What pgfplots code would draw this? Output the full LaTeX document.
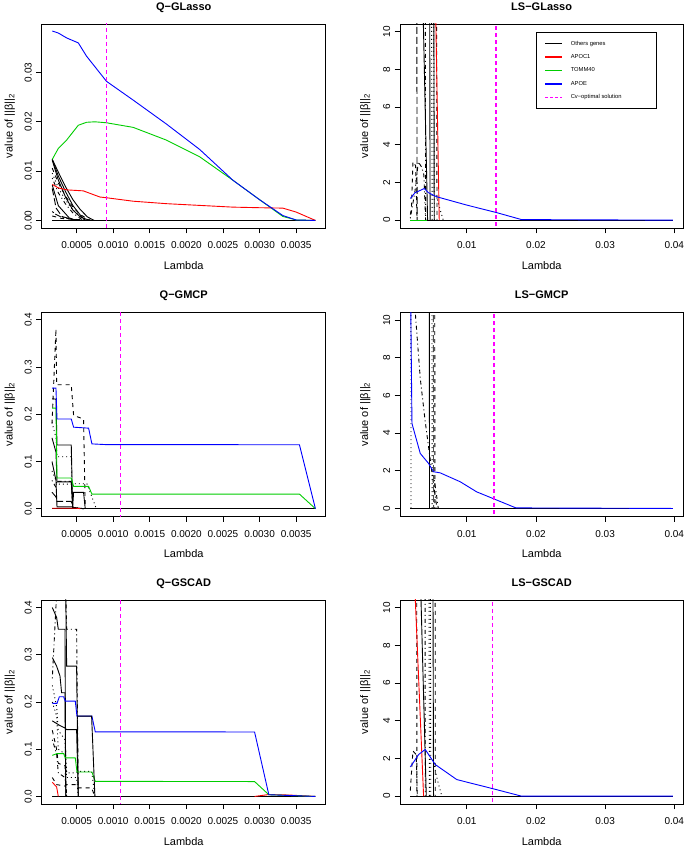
\documentclass[border=0pt]{standalone}
\usepackage{fontspec}
\setmainfont{Liberation Sans}
\usepackage{pgfplots}
\pgfplotsset{compat=1.18}

\definecolor{rgreen}{RGB}{0,205,0}
\definecolor{rmagenta}{RGB}{255,0,255}
\definecolor{rblue}{RGB}{0,0,255}
\definecolor{rred}{RGB}{255,0,0}
\tikzset{
  lty2/.style={dash pattern=on 4pt off 4pt},
  lty3/.style={dash pattern=on 1pt off 3pt},
  lty4/.style={dash pattern=on 1pt off 3pt on 4pt off 3pt},
  lty5/.style={dash pattern=on 7pt off 3pt},
  lty6/.style={dash pattern=on 2pt off 2pt on 6pt off 2pt},
  cvline/.style={rmagenta, line width=1.6pt, dash pattern=on 4pt off 3pt},
}
\pgfplotsset{
  rpanel/.style={
    scale only axis, width=284pt, height=204pt, anchor=north west,
    axis line style={line width=0.9pt},
    tick align=outside, major tick length=5.5pt,
    xtick pos=bottom, ytick pos=left,
    tick style={black, line width=0.7pt},
    scaled ticks=false,
    /pgf/number format/assume math mode=true,
    ticklabel style={font=\fontsize{10}{12}\selectfont},
    xticklabel style={anchor=base, yshift=-15.4pt},
    yticklabel style={rotate=90, anchor=base, yshift=4.5pt},
    title style={font=\bfseries\fontsize{11}{13}\selectfont, at={(0.5,1)}, anchor=base, yshift=7.3pt},
    xlabel style={font=\fontsize{11}{13}\selectfont, at={(0.5,0)}, anchor=base, yshift=-41.6pt},
    ylabel style={font=\fontsize{11}{13}\selectfont, at={(0,0.5)}, anchor=base},
    xlabel={Lambda}, ylabel={value of ||β||\textsubscript{2}},
    every axis plot/.append style={line width=0.9pt, forget plot},
    clip=true,
  },
  qx/.style={xmin=0.000023, xmax=0.003904,
    xtick={0.0005,0.001,0.0015,0.002,0.0025,0.003,0.0035},
    xticklabels={0.0005,0.0010,0.0015,0.0020,0.0025,0.0030,0.0035},
    ylabel style={yshift=29pt}},
  qy/.style={ymin=-0.016, ymax=0.416, ytick={0,0.1,0.2,0.3,0.4},
    yticklabels={0.0,0.1,0.2,0.3,0.4}},
  lsx/.style={width=283.3pt, xmin=0.00035, xmax=0.0413,
    xtick={0.01,0.02,0.03,0.04}, xticklabels={0.01,0.02,0.03,0.04},
    ymin=-0.416, ymax=10.416, ytick={0,2,4,6,8,10},
    ylabel style={yshift=32pt}},
}

\begin{document}
\begin{tikzpicture}
\path[use as bounding box] (0,0) rectangle (685pt,849pt);

% ---------------- Q-GLasso
\begin{axis}[rpanel, qx, at={(41.7pt,825pt)}, title={Q−GLasso},
  ymin=-0.00153, ymax=0.03983, ytick={0,0.01,0.02,0.03},
  yticklabels={0.00,0.01,0.02,0.03}]
\addplot[black] coordinates {(0.000167,0.0124)(0.00025,0.0098)(0.00035,0.0068)(0.00045,0.0042)(0.00055,0.0022)(0.00065,0.0007)(0.00074,0)};
\addplot[black] coordinates {(0.000167,0.0124)(0.00025,0.0090)(0.00035,0.0058)(0.00045,0.0030)(0.00055,0.0011)(0.00062,0)};
\addplot[black] coordinates {(0.000167,0.0122)(0.00025,0.0082)(0.00035,0.0047)(0.00045,0.0021)(0.00055,0.0007)(0.00068,0)};
\addplot[black] coordinates {(0.000167,0.0072)(0.00025,0.0030)(0.0004,0.0005)(0.0005,0)};
\addplot[black,lty2] coordinates {(0.000167,0.0106)(0.00025,0.0076)(0.00035,0.0049)(0.00045,0.0027)(0.00055,0.0012)(0.00065,0.0003)(0.0007,0)};
\addplot[black,lty3] coordinates {(0.000167,0.0096)(0.00025,0.0066)(0.00035,0.0041)(0.00045,0.0021)(0.00055,0.0008)(0.00062,0)};
\addplot[black,lty4] coordinates {(0.000167,0.0086)(0.00025,0.0056)(0.00035,0.0033)(0.00045,0.0015)(0.00055,0.0004)(0.0006,0)};
\addplot[black,lty5] coordinates {(0.000167,0.0065)(0.00022,0.0025)(0.0003,0.0008)(0.00045,0.0002)(0.0006,0)};
\addplot[black,lty6] coordinates {(0.000167,0.0018)(0.00022,0.0012)(0.0003,0.0006)(0.00045,0.0002)(0.0006,0)};
\addplot[black,lty2] coordinates {(0.000167,0.0009)(0.0003,0.0004)(0.0005,0.0002)(0.0007,0)};
\addplot[black] coordinates {(0.000167,0)(0.003764,0)};
\addplot[rgreen] coordinates {(0.000168,0.0124)(0.00025,0.0146)(0.000364,0.0163)(0.000523,0.0193)(0.000636,0.0199)(0.00075,0.0200)(0.000909,0.0198)(0.001273,0.01887)(0.001727,0.01629)(0.002182,0.0129)(0.002636,0.00815)(0.0030,0.00421)(0.003318,0.00081)(0.0035,0.0001)(0.003764,0)};
\addplot[rred] coordinates {(0.000168,0.0073)(0.00025,0.0066)(0.000364,0.0062)(0.000591,0.0060)(0.000818,0.00475)(0.000909,0.0046)(0.001273,0.0039)(0.001727,0.0034)(0.002182,0.00305)(0.002636,0.0027)(0.0030,0.00258)(0.003318,0.0025)(0.0035,0.0017)(0.003764,0)};
\addplot[rblue] coordinates {(0.000168,0.0384)(0.00025,0.0380)(0.000364,0.0370)(0.000523,0.0360)(0.000636,0.0333)(0.000818,0.0299)(0.000909,0.0282)(0.001273,0.0244)(0.001727,0.01955)(0.002182,0.01439)(0.002636,0.00815)(0.0030,0.00421)(0.003318,0.0010)(0.0035,0.0001)(0.003764,0)};
\addplot[cvline] coordinates {(0.00091,-0.01)(0.00091,0.05)};
\end{axis}

% ---------------- LS-GLasso
\begin{axis}[rpanel, lsx, at={(400pt,825pt)}, title={LS−GLasso},
  legend style={at={(0.481,0.962)}, anchor=north west, draw=black, line width=0.8pt,
    fill=white, font=\fontsize{5.8}{7}\selectfont, inner xsep=8pt, inner ysep=9pt,
    row sep=8.4pt, column sep=8pt,
    nodes={inner sep=0pt, text height=4pt, text depth=1pt}},
  legend cell align=left,
  legend image code/.code={\draw[#1] (0pt,0pt) -- (16.7pt,0pt);}]
\addlegendimage{black, line width=1.4pt}
\addlegendentry{Others genes}
\addlegendimage{rred, line width=1.4pt}
\addlegendentry{APOC1}
\addlegendimage{rgreen, line width=1.4pt}
\addlegendentry{TOMM40}
\addlegendimage{rblue, line width=1.4pt}
\addlegendentry{APOE}
\addlegendimage{rmagenta, line width=1.4pt, dash pattern=on 3pt off 2pt}
\addlegendentry{Cv−optimal solution\hspace*{27pt}}
\addplot[black,lty5] coordinates {(0.0027,40)(0.00282,0)};
\addplot[black,lty2] coordinates {(0.00184,0.3)(0.0020,0.6)(0.00222,3.1)(0.0026,2.9)(0.00282,0)};
\addplot[black,lty4] coordinates {(0.00184,0.1)(0.0025,1.5)(0.0030,3.1)(0.0035,2.8)(0.0038,2.4)(0.00405,0)};
\addplot[black] coordinates {(0.0034,16)(0.00434,0)};
\addplot[black,lty4] coordinates {(0.0039,40)(0.00405,0)};
\addplot[black] coordinates {(0.0045,40)(0.0047,0)};
\addplot[black,lty3] coordinates {(0.0047,40)(0.0050,0)};
\addplot[black,lty3] coordinates {(0.0050,40)(0.0053,0)};
\addplot[black] coordinates {(0.0051,40)(0.0053,0)};
\addplot[black,lty2] coordinates {(0.0055,40)(0.0057,0)};
\addplot[black,lty3] coordinates {(0.0056,1.3)(0.0062,0.5)(0.0066,0)};
\addplot[black] coordinates {(0.00184,0)(0.0398,0)};
\addplot[rgreen] coordinates {(0.00184,0)(0.0042,0)};
\addplot[rred] coordinates {(0.0050,22)(0.00602,0)};
\addplot[rblue] coordinates {(0.00184,1.15)(0.0025,1.45)(0.00386,1.68)(0.0045,1.45)(0.00568,1.24)(0.01,0.80)(0.01422,0.41)(0.01792,0.03)(0.0398,0)};
\addplot[cvline] coordinates {(0.0142,-20)(0.0142,20)};
\end{axis}

% ---------------- Q-GMCP
\begin{axis}[rpanel, qx, qy, at={(41.7pt,536.7pt)}, title={Q−GMCP}]
\addplot[black,lty2] coordinates {(0.000164,0.18)(0.000218,0.381)(0.000227,0.2625)(0.000427,0.2625)(0.000459,0.1975)(0.000595,0.19)(0.000618,0)};
\addplot[black] coordinates {(0.000164,0.233)(0.000218,0.232)(0.000232,0.135)(0.000427,0.135)(0.000446,0)};
\addplot[black] coordinates {(0.000164,0.15)(0.000218,0.12)(0.000232,0.057)(0.000427,0.057)(0.000446,0.003)(0.0006,0)};
\addplot[black] coordinates {(0.000164,0.10)(0.000218,0.06)(0.000232,0.004)(0.000446,0.004)(0.000459,0.0346)(0.000595,0.0346)(0.000618,0)};
\addplot[black,lty3] coordinates {(0.000164,0.183)(0.000218,0.15)(0.000232,0.11)(0.000427,0.11)(0.000446,0.003)(0.0006,0)};
\addplot[black,lty3] coordinates {(0.000164,0.08)(0.000218,0.06)(0.000232,0.052)(0.000427,0.052)(0.000459,0.053)(0.00064,0.053)(0.00077,0)};
\addplot[black,lty5] coordinates {(0.000164,0.035)(0.000218,0.025)(0.000232,0.0155)(0.000427,0.0155)(0.000446,0.002)(0.0006,0)};
\addplot[black,lty4] coordinates {(0.000164,0.06)(0.000218,0.045)(0.000232,0.058)(0.000427,0.058)(0.000446,0)};
\addplot[black] coordinates {(0.000164,0)(0.003764,0)};
\addplot[rred] coordinates {(0.000164,0.001)(0.0005,0.001)(0.00055,0)};
\addplot[rgreen] coordinates {(0.000164,0.213)(0.000218,0.213)(0.000232,0.065)(0.000427,0.065)(0.000459,0.0474)(0.000664,0.0474)(0.000709,0.031)(0.003545,0.031)(0.003764,0)};
\addplot[rblue] coordinates {(0.000164,0.2555)(0.000218,0.2555)(0.000232,0.190)(0.000427,0.190)(0.000459,0.1727)(0.000664,0.1706)(0.000709,0.1373)(0.0009,0.1358)(0.003545,0.1355)(0.003764,0)};
\addplot[cvline] coordinates {(0.0011,-1)(0.0011,1)};
\end{axis}

% ---------------- LS-GMCP
\begin{axis}[rpanel, lsx, at={(400pt,536.7pt)}, title={LS−GMCP}]
\addplot[black,lty3] coordinates {(0.0019,40)(0.00194,0)};
\addplot[black,lty4] coordinates {(0.0023,14)(0.00256,10.4)(0.00328,6.9)(0.0040,4.6)(0.00472,2.6)(0.0053,1.0)(0.0057,0)};
\addplot[black] coordinates {(0.0045,40)(0.00462,0)};
\addplot[black,lty3] coordinates {(0.0049,40)(0.0050,0)};
\addplot[black!70,lty5] coordinates {(0.0051,40)(0.0052,0)};
\addplot[black,lty2] coordinates {(0.0053,40)(0.0054,0)};
\addplot[black,lty4] coordinates {(0.0053,1.5)(0.0056,0.8)(0.0058,0.2)(0.0059,0)};
\addplot[black] coordinates {(0.00184,0)(0.0398,0)};
\addplot[rblue] coordinates {(0.00184,13)(0.00208,4.51)(0.00328,2.92)(0.00448,2.39)(0.0052,1.95)(0.00616,1.89)(0.00904,1.42)(0.01144,0.88)(0.01398,0.50)(0.0171,0.03)(0.0398,0)};
\addplot[cvline] coordinates {(0.01398,-20)(0.01398,20)};
\end{axis}

% ---------------- Q-GSCAD
\begin{axis}[rpanel, qx, qy, at={(41.7pt,249pt)}, title={Q−GSCAD}]
\addplot[black] coordinates {(0.000168,0.40)(0.000227,0.379)(0.00025,0.354)(0.000341,0.354)(0.000352,0)};
\addplot[black] coordinates {(0.000168,0.294)(0.000227,0.276)(0.000273,0.255)(0.000295,0.2195)(0.000341,0.2195)(0.000352,0)};
\addplot[black] coordinates {(0.000168,0.55)(0.000341,0.55)(0.000364,0.276)(0.0005,0.276)(0.000523,0)};
\addplot[black] coordinates {(0.000168,0.16)(0.000273,0.15)(0.000341,0.145)(0.000364,0.1416)(0.0005,0.1416)(0.000523,0)};
\addplot[black,lty4] coordinates {(0.000168,0.25)(0.00025,0.5)(0.000341,0.5)(0.000364,0.354)(0.0005,0.354)(0.000523,0)};
\addplot[black,lty3] coordinates {(0.000168,0.235)(0.000227,0.19)(0.00025,0.14)(0.000341,0.12)(0.000364,0.05)(0.0005,0.05)(0.000523,0.053)(0.000705,0.053)(0.00075,0)};
\addplot[black,lty3] coordinates {(0.000168,0.2)(0.000227,0.17)(0.00025,0.1)(0.000341,0.09)(0.000364,0.04)(0.0005,0.04)(0.000523,0)};
\addplot[black,lty2] coordinates {(0.000168,0.04)(0.000227,0.025)(0.000341,0.022)(0.000364,0.025)(0.0005,0.025)(0.000523,0.018)(0.000705,0.018)(0.00075,0)};
\addplot[black,lty2] coordinates {(0.000168,0.14)(0.000227,0.1)(0.00025,0.07)(0.000341,0.065)(0.000364,0)};
\addplot[black,lty4] coordinates {(0.000168,0.12)(0.000227,0.09)(0.00025,0.05)(0.000341,0.04)(0.000364,0)};
\addplot[black] coordinates {(0.000168,0)(0.003764,0)};
\addplot[rred] coordinates {(0.000168,0.03)(0.000227,0.02)(0.00025,0)};
\addplot[rred] coordinates {(0.002932,0)(0.003127,0.004)(0.0034,0.003)(0.003764,0)};
\addplot[rgreen] coordinates {(0.000168,0.087)(0.000232,0.0907)(0.000323,0.0907)(0.000345,0.0815)(0.000482,0.0815)(0.000505,0.0518)(0.000709,0.0518)(0.000755,0.0319)(0.002932,0.0315)(0.003127,0.0036)(0.003764,0)};
\addplot[rblue] coordinates {(0.000168,0.197)(0.000232,0.197)(0.000264,0.211)(0.000323,0.211)(0.000345,0.2018)(0.000482,0.2018)(0.000505,0.170)(0.000709,0.170)(0.000755,0.1368)(0.002932,0.1365)(0.003127,0.0036)(0.003764,0)};
\addplot[black] coordinates {(0.000505,0.170)(0.000705,0.170)(0.00075,0)};
\addplot[cvline] coordinates {(0.0011,-1)(0.0011,1)};
\end{axis}

% ---------------- LS-GSCAD
\begin{axis}[rpanel, lsx, at={(400pt,249pt)}, title={LS−GSCAD}]
\addplot[black,lty2] coordinates {(0.0027,40)(0.0028,0)};
\addplot[black,lty2] coordinates {(0.00184,0.3)(0.00222,2.4)(0.0027,2.2)(0.00285,0)};
\addplot[black] coordinates {(0.0030,15.7)(0.00415,0)};
\addplot[black,lty4] coordinates {(0.0039,40)(0.0040,0)};
\addplot[black,lty3] coordinates {(0.0044,40)(0.0046,0)};
\addplot[black,lty3] coordinates {(0.0046,40)(0.0048,0)};
\addplot[black] coordinates {(0.0049,40)(0.0052,0)};
\addplot[black,lty2] coordinates {(0.0054,40)(0.00545,0)};
\addplot[black,lty3] coordinates {(0.0053,1.6)(0.0058,0.8)(0.0064,0)};
\addplot[black] coordinates {(0.00184,0)(0.0398,0)};
\addplot[rred] coordinates {(0.0022,13.6)(0.00376,0)};
\addplot[rblue] coordinates {(0.00184,1.55)(0.00304,2.21)(0.0040,2.48)(0.00544,1.68)(0.00856,0.88)(0.01384,0.39)(0.01792,0)(0.0398,0)};
\addplot[cvline] coordinates {(0.01374,-20)(0.01374,20)};
\end{axis}
\end{tikzpicture}
\end{document}
